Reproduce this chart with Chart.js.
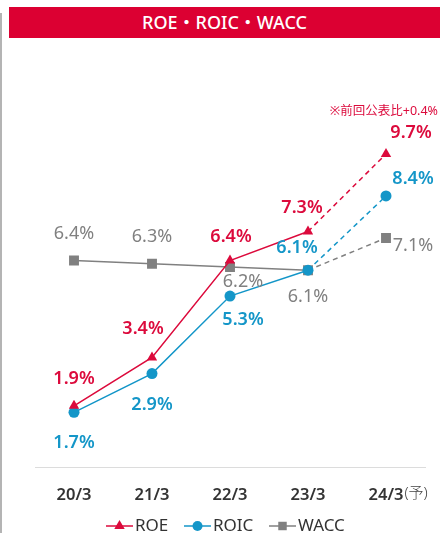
<!DOCTYPE html>
<html>
<head>
<meta charset="utf-8">
<script src="https://cdn.jsdelivr.net/npm/chart.js@4.4.1/dist/chart.umd.min.js"></script>
<style>
body{margin:0;background:#fff;font-family:"Noto Sans","Noto Sans CJK JP",sans-serif}
#wrap{position:relative;width:440px;height:533px;overflow:hidden}
#bar{position:absolute;left:9px;top:7px;width:431px;height:31px;background:#dc0032;color:#fff;font-size:18px;font-weight:500;text-align:center;line-height:31px}
#edge{position:absolute;left:0;top:13px;width:2px;height:520px;background:#b4b4b4}
canvas{position:absolute;left:0;top:0}
</style>
</head>
<body>
<div id="wrap">
<canvas id="c" width="440" height="533"></canvas>
<div id="edge"></div>
<div id="bar">ROE・ROIC・WACC</div>
</div>
<script>
const years=["20/3","21/3","22/3","23/3","24/3"]
const roe=[1.9,3.4,6.4,7.3,9.7]
const roic=[1.7,2.9,5.3,6.1,8.4]
const wacc=[6.4,6.3,6.2,6.1,7.1]
const note="※前回公表比+0.4%"

const RED="#dc0a3c",BLUE="#1496c8",GRAY="#808080"
const FONT='"Noto Sans","Noto Sans CJK JP",sans-serif'

// label offsets from point (dx,dy)
const offs=[
[[0,-27],[-9,-29],[1,-24],[-6,-24],[25,-21]],
[[0,31],[0,31],[13,24],[-11,-22],[27,-17]],
[[0,-27],[0,-27],[13,15],[0,27],[27,8]]
]

const dash={borderDash:ctx=>ctx.p1DataIndex==4?[5,4]:undefined}

const labelPlugin={
id:"labels",
afterDatasetsDraw(chart){
const c=chart.ctx
c.save()
c.textAlign="center"
c.textBaseline="middle"
chart.data.datasets.forEach((ds,i)=>{
let meta=chart.getDatasetMeta(i)
c.fillStyle=ds.borderColor
c.font=(i==2?"400":"600")+" 18px "+FONT
meta.data.forEach((p,j)=>{
c.fillText(ds.data[j].toFixed(1)+"%",p.x+offs[i][j][0],p.y+offs[i][j][1])
})
})
// note
c.font="400 12.5px "+FONT
c.fillStyle=RED
c.textAlign="right"
c.fillText(note,438,111)
// (予) after last tick
let x=chart.scales.x.getPixelForValue(4)
c.font="600 16.5px "+FONT
let w=c.measureText(years[4]).width
c.font="300 15px "+FONT
c.fillStyle="#444"
c.textAlign="left"
c.fillText("(予)",x+w/2+1,494)
// legend
let items=[[106,RED,"triangle",6],[184,BLUE,"circle",5],[269,GRAY,"rect",6]]
items.forEach((it,k)=>{
let lx=it[0],y=526,ds=chart.data.datasets[k]
c.strokeStyle=it[1];c.lineWidth=1.5
c.beginPath();c.moveTo(lx,y);c.lineTo(lx+27,y);c.stroke()
c.fillStyle=it[1]
Chart.helpers.drawPoint(c,{pointStyle:it[2],radius:it[3],rotation:0,borderWidth:0},lx+13.5,y)
c.fillStyle="#333"
c.font="400 17px "+FONT
c.textAlign="left"
c.fillText(ds.label,lx+29,y)
})
c.restore()
}
}

new Chart(document.getElementById("c"),{
type:"line",
data:{
labels:years,
datasets:[
{label:"ROE",data:roe,borderColor:RED,backgroundColor:RED,pointStyle:"triangle",pointRadius:6,pointBorderWidth:0,borderWidth:1.5,segment:dash},
{label:"ROIC",data:roic,borderColor:BLUE,backgroundColor:BLUE,pointStyle:"circle",pointRadius:5.5,pointBorderWidth:0,borderWidth:1.5,segment:dash},
{label:"WACC",data:wacc,borderColor:GRAY,backgroundColor:GRAY,pointStyle:"rect",pointRadius:7,pointBorderWidth:0,borderWidth:1.5,segment:dash}
]
},
options:{
responsive:false,
animation:false,
layout:{padding:{left:35,right:15,top:112,bottom:10}},
plugins:{legend:{display:false},tooltip:{enabled:false}},
scales:{
x:{offset:true,grid:{display:false,drawTicks:false},border:{color:"#dcdcdc",width:1},
ticks:{padding:18,color:"#333",font:{size:16.5,weight:"600",family:FONT}}},
y:{display:false,min:0,max:11}
}
},
plugins:[labelPlugin]
})
</script>
</body>
</html>
